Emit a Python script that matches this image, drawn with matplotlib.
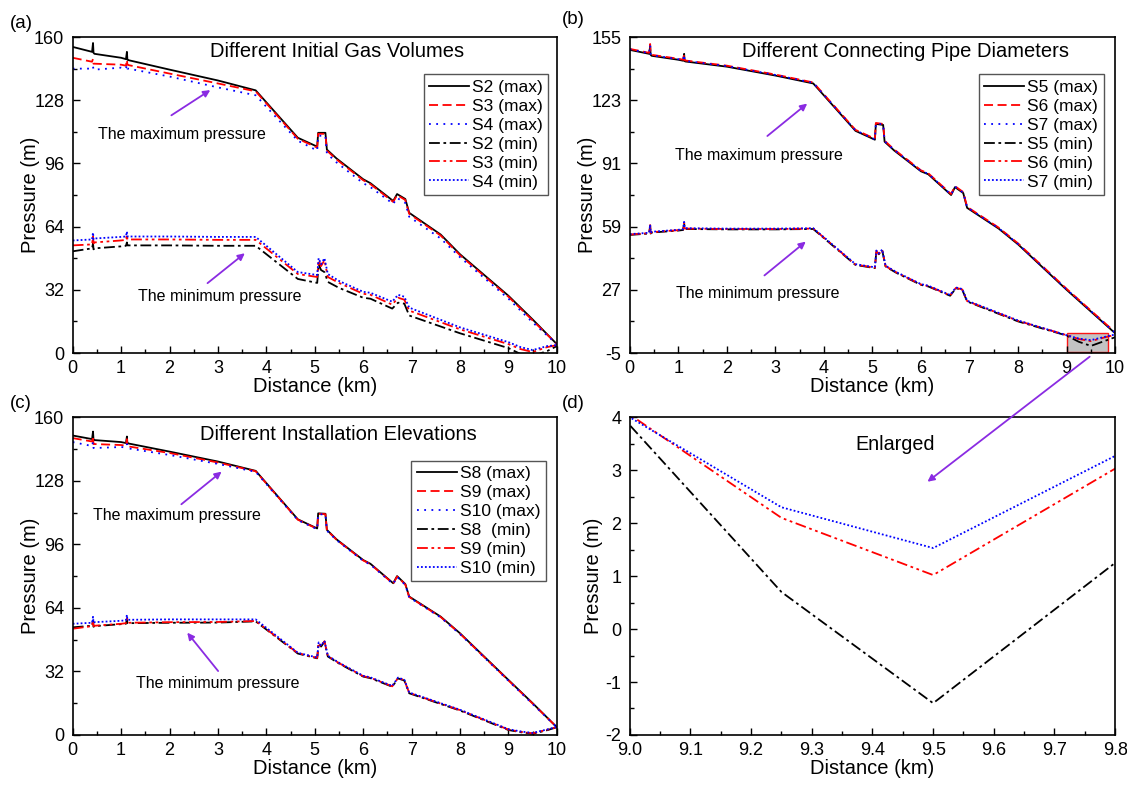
import matplotlib.pyplot as plt
from matplotlib.patches import Rectangle
from matplotlib.ticker import MultipleLocator

plt.rcParams["font.family"] = ["Liberation Sans", "DejaVu Sans"]
plt.rcParams["axes.unicode_minus"] = False

# distance breakpoints (km) for the maximum- and minimum-pressure envelopes
x_max = [0, 0.40, 0.42, 0.43, 0.45, 1.0, 1.10, 1.12, 1.13, 1.15, 2.0, 3.0, 3.78, 4.65, 5.05,
         5.07, 5.22, 5.25, 5.45, 6.0, 6.15, 6.62, 6.7, 6.87, 6.95, 7.6, 8.0, 9.0, 9.5, 10.0]
x_min = [0, 0.40, 0.42, 0.43, 0.45, 1.0, 1.10, 1.12, 1.13, 1.15, 2.0, 3.0, 3.78, 4.65, 5.05,
         5.08, 5.13, 5.2, 5.27, 5.5, 6.0, 6.15, 6.6, 6.72, 6.85, 6.95, 8.0, 9.0, 9.25, 9.5, 9.8, 10.0]

# (a) different initial gas volumes
s2_max = [155, 152.5, 157, 152, 151.5, 149.5, 148.8, 152.5, 148.5, 148.3, 143.5, 138, 133, 109, 104.5,
          111.5, 111.5, 103, 98.5, 88, 86, 77, 80.5, 78, 71, 60, 50, 29, 17, 4.5]
s3_max = [149.5, 147.5, 149, 146.5, 146.5, 146, 145.5, 148.5, 146, 145.8, 141.5, 136.5, 132.5, 108.5, 104,
          111, 111, 102.5, 98, 87.5, 85.5, 76.5, 80, 77.5, 70.5, 59.5, 49.5, 28.5, 16.5, 4.5]
s4_max = [144, 144, 145, 143.5, 143.5, 144.5, 144, 146, 144, 144, 140, 134.5, 130.5, 107.5, 102.5,
          110, 110, 101, 96.5, 86, 84, 75.5, 78.5, 76, 69, 58, 48.5, 27.5, 15.5, 4.5]
s2_min = [51.5, 53, 55.5, 52.5, 53, 54, 54.3, 56, 54.5, 54.5, 54.5, 54.3, 54.3, 37.5, 35.5,
          45, 42, 41, 36, 33, 28, 27.5, 22.5, 25.5, 25, 19, 10, 2.5, -0.5, -1.5, 1.0, 3.5]
s3_min = [54.5, 55, 59, 55.5, 56, 57, 57.3, 60, 57.5, 57.5, 57.5, 57.3, 57.3, 40, 38.5,
          47, 44, 47, 38.5, 35.5, 30, 29.5, 24.5, 28, 27, 21.5, 12, 4.5, 2, 0.5, 3, 4]
s4_min = [57, 57.5, 61, 57.5, 58, 58.8, 59, 61.5, 59, 59, 59, 58.8, 58.8, 41, 39.5,
          48, 45, 48, 40, 36.5, 31, 30.5, 26, 29.5, 28.5, 23, 13, 5.5, 3, 1.5, 3.5, 4]

# (b) different connecting pipe diameters
s5_max = [148.5, 146.5, 150.5, 146, 145.5, 143.5, 143, 146.5, 142.8, 142.6, 140, 135.5, 131.5, 107.5, 103,
          111, 110.5, 102, 97.5, 87, 85.5, 75, 79, 76, 68.5, 58, 50, 27, 16, 5]
s6_max = [149, 147, 151.5, 146.5, 146, 144, 143.5, 146, 143.3, 143.1, 140.5, 136, 132, 108, 103.5,
          111.5, 111, 102.5, 98, 87.5, 86, 75.5, 79.5, 76.5, 69, 58.5, 50.5, 27.5, 16.5, 5.5]
s7_max = [148.8, 146.8, 151, 146.3, 145.8, 143.8, 143.3, 146.2, 143, 142.9, 140.3, 135.8, 131.8, 107.8, 103.2,
          111.2, 110.8, 102.2, 97.8, 87.2, 85.8, 75.2, 79.2, 76.2, 68.8, 58.2, 50.2, 27.2, 16.2, 5.2]
s5_min = [54.8, 55.5, 59.5, 55.5, 56, 57, 57.3, 61, 58, 57.8, 57.6, 57.6, 57.8, 39.6, 38,
          46.5, 45, 47, 38.8, 35.5, 29.5, 28.7, 24, 27.8, 27, 21.1, 11, 3.85, 0.7, -1.4, 1.25, 3.0]
s6_min = [55, 55.7, 59.8, 55.7, 56.2, 57.2, 57.5, 61.2, 58.2, 58, 57.8, 57.8, 58, 39.8, 38.2,
          46.7, 45.2, 47.2, 39, 35.7, 29.7, 28.9, 24.2, 28, 27.2, 21.3, 11.3, 4.05, 2.1, 1.02, 3.03, 4.2]
s7_min = [55.2, 55.9, 60, 55.9, 56.4, 57.4, 57.7, 61.4, 58.4, 58.2, 58, 58, 58.2, 40, 38.4,
          46.9, 45.4, 47.4, 39.2, 35.9, 29.9, 29.1, 24.4, 28.2, 27.4, 21.5, 11.5, 4.0, 2.3, 1.53, 3.27, 4.4]

# (c) different installation elevations
s8_max = [150.8, 149, 152.8, 148.6, 148.5, 147.5, 147, 150.3, 146.9, 146.8, 142.7, 137.7, 133, 108.6, 104,
          111.6, 111.4, 103.3, 98.5, 88.1, 86.2, 76.4, 80, 76, 69.7, 59.6, 51.2, 27.7, 16, 3.9]
s9_max = [149.5, 147.8, 150.5, 146.5, 146.5, 146, 145.7, 149, 145.5, 145.3, 142, 137.2, 132.8, 108.4, 103.8,
          111.4, 111.2, 103.1, 98.3, 87.9, 86, 76.2, 79.8, 75.8, 69.5, 59.4, 51, 27.5, 15.8, 3.9]
s10_max = [147.5, 145.5, 147.5, 144.5, 144.5, 145, 144.8, 146.5, 144.5, 144.3, 141, 136.5, 132.5, 108.2, 103.6,
           111.2, 111, 102.9, 98.1, 87.7, 85.8, 76, 79.6, 75.6, 69.3, 59.2, 50.8, 27.3, 15.6, 3.9]
s8_min = [54.2, 55, 57.5, 54.5, 54.8, 55.8, 56, 58.5, 56.3, 56.3, 56.5, 56.6, 57.2, 41, 38.6,
          46.2, 44.5, 47, 39.5, 36, 29.4, 28.6, 24.3, 28.5, 27.4, 21, 12.3, 2.5, 1.4, 0.6, 2.4, 3.9]
s9_min = [53.5, 54.8, 57.8, 54.8, 55, 56, 56.3, 58.8, 56.5, 56.5, 56.8, 56.9, 57.4, 41.2, 38.8,
          46.4, 44.7, 47.2, 39.7, 36.2, 29.6, 28.8, 24.5, 28.7, 27.6, 21.2, 12.5, 2.7, 1.6, 0.8, 2.6, 4.0]
s10_min = [56, 56.5, 59.5, 56.5, 56.8, 57.5, 57.8, 60.5, 58, 58, 58.2, 58.2, 58.2, 41.4, 39,
           46.6, 44.9, 47.4, 39.9, 36.4, 29.8, 29, 24.7, 28.9, 27.8, 21.4, 12.7, 2.9, 1.8, 1.0, 2.8, 4.1]

labels_a = ["S2 (max)", "S3 (max)", "S4 (max)", "S2 (min)", "S3 (min)", "S4 (min)"]
labels_b = ["S5 (max)", "S6 (max)", "S7 (max)", "S5 (min)", "S6 (min)", "S7 (min)"]
labels_c = ["S8 (max)", "S9 (max)", "S10 (max)", "S8  (min)", "S9 (min)", "S10 (min)"]

STYLES = [
    dict(color="black", linestyle="-"),
    dict(color="red", linestyle=(0, (5, 2.5))),
    dict(color="blue", linestyle=(0, (1, 3))),
    dict(color="black", linestyle=(0, (6, 2, 1.5, 2))),
    dict(color="red", linestyle=(0, (6, 2, 1.5, 2, 1.5, 2))),
    dict(color="blue", linestyle=(0, (1, 1.2))),
]
ARROW = "#8a2be2"


def draw_curves(ax, labels, series):
    xs = [x_max, x_max, x_max, x_min, x_min, x_min]
    for lab, x, y, st in zip(labels, xs, series, STYLES):
        ax.plot(x, y, label=lab, linewidth=1.3, **st)


def style_axes(ax, xlim, ylim, xmajor, ymajor, yticks=None, ylabelpad=-4):
    ax.set_xlim(*xlim)
    ax.set_ylim(*ylim)
    ax.xaxis.set_major_locator(MultipleLocator(xmajor))
    ax.xaxis.set_minor_locator(MultipleLocator(xmajor / 2))
    if yticks is not None:
        ax.set_yticks(yticks)
        step = yticks[1] - yticks[0]
        ax.set_yticks([t + step / 2 for t in yticks[:-1]], minor=True)
    else:
        ax.yaxis.set_major_locator(MultipleLocator(ymajor))
        ax.yaxis.set_minor_locator(MultipleLocator(ymajor / 2))
    ax.tick_params(which="both", direction="in", top=False, right=False, labelsize=13)
    ax.tick_params(axis="y", pad=6)
    ax.tick_params(axis="x", pad=5)
    ax.tick_params(which="major", length=5, width=1.0)
    ax.tick_params(which="minor", length=3, width=1.0)
    for sp in ax.spines.values():
        sp.set_linewidth(1.2)
    ax.set_xlabel("Distance (km)", fontsize=14.5, labelpad=0)
    ax.set_ylabel("Pressure (m)", fontsize=14.5, labelpad=ylabelpad)


def add_legend(ax, anchor):
    ax.legend(loc="upper right", bbox_to_anchor=anchor, fontsize=12.5, frameon=True,
              fancybox=False, edgecolor="#555555", framealpha=1, handlelength=2.3,
              handletextpad=0.2, labelspacing=0.22, borderpad=0.3, borderaxespad=0)


def pointer(ax, text, text_xy, tail, head):
    ax.text(*text_xy, text, fontsize=11.5, ha="center", va="center")
    ax.annotate("", xy=head, xytext=tail,
                arrowprops=dict(arrowstyle="-|>", color=ARROW, lw=1.3, mutation_scale=10))


fig = plt.figure(figsize=(11.27, 7.88), dpi=100)
ax_a = fig.add_axes([0.0645, 0.552, 0.4296, 0.401])
ax_b = fig.add_axes([0.5588, 0.552, 0.4307, 0.401])
ax_c = fig.add_axes([0.0645, 0.0673, 0.4296, 0.4032])
ax_d = fig.add_axes([0.5588, 0.0673, 0.4307, 0.4032])

# (a)
draw_curves(ax_a, labels_a, [s2_max, s3_max, s4_max, s2_min, s3_min, s4_min])
style_axes(ax_a, (0, 10), (0, 160), 1, 32)
add_legend(ax_a, (0.982, 0.882))
ax_a.text(5.46, 152.8, "Different Initial Gas Volumes", fontsize=14.5, ha="center", va="center")
pointer(ax_a, "The maximum pressure", (2.25, 110.7), (1.99, 119.6), (2.89, 133.9))
pointer(ax_a, "The minimum pressure", (3.03, 28.6), (2.74, 34.5), (3.6, 51.4))

# (b)
draw_curves(ax_b, labels_b, [s5_max, s6_max, s7_max, s5_min, s6_min, s7_min])
style_axes(ax_b, (0, 10), (-5, 155), 1, 32, yticks=[-5, 27, 59, 91, 123, 155])
add_legend(ax_b, (0.976, 0.882))
ax_b.text(5.68, 147.8, "Different Connecting Pipe Diameters", fontsize=14.5, ha="center", va="center")
pointer(ax_b, "The maximum pressure", (2.67, 94.9), (2.79, 104.0), (3.70, 122.2))
pointer(ax_b, "The minimum pressure", (2.63, 25.3), (2.73, 33.4), (3.67, 52.3))
ax_b.add_patch(Rectangle((9.0, -4.3), 0.85, 9.4, facecolor="#bdbdbd", edgecolor="red",
                         linewidth=1.0, alpha=0.9, zorder=1))

# (c)
draw_curves(ax_c, labels_c, [s8_max, s9_max, s10_max, s8_min, s9_min, s10_min])
style_axes(ax_c, (0, 10), (0, 160), 1, 32)
add_legend(ax_c, (0.977, 0.863))
ax_c.text(5.48, 151.4, "Different Installation Elevations", fontsize=14.5, ha="center", va="center")
pointer(ax_c, "The maximum pressure", (2.16, 110.3), (2.2, 115.3), (3.12, 133.5))
pointer(ax_c, "The minimum pressure", (2.99, 26.0), (3.04, 31.1), (2.33, 52.6))

# (d) enlarged view of the red box in (b)
draw_curves(ax_d, labels_b, [s5_max, s6_max, s7_max, s5_min, s6_min, s7_min])
style_axes(ax_d, (9.0, 9.8), (-2, 4), 0.1, 1, ylabelpad=2)
ax_d.xaxis.set_major_formatter(plt.FormatStrFormatter("%.1f"))
ax_d.text(9.437, 3.49, "Enlarged", fontsize=14.2, ha="center", va="center")
ax_d.annotate("", xy=(9.487, 2.75), xycoords=ax_d.transData,
              xytext=(9.52, -6.0), textcoords=ax_b.transData,
              arrowprops=dict(arrowstyle="-|>", color=ARROW, lw=1.3, mutation_scale=10),
              annotation_clip=False)

for lab, (px, py) in zip(["(a)", "(b)", "(c)", "(d)"],
                         [(21, 23), (573, 20), (21, 404), (573, 404)]):
    fig.text(px / 1127, 1 - py / 788, lab, fontsize=13.5, ha="center", va="center")

fig.savefig("out.png", dpi=100)
plt.close(fig)
